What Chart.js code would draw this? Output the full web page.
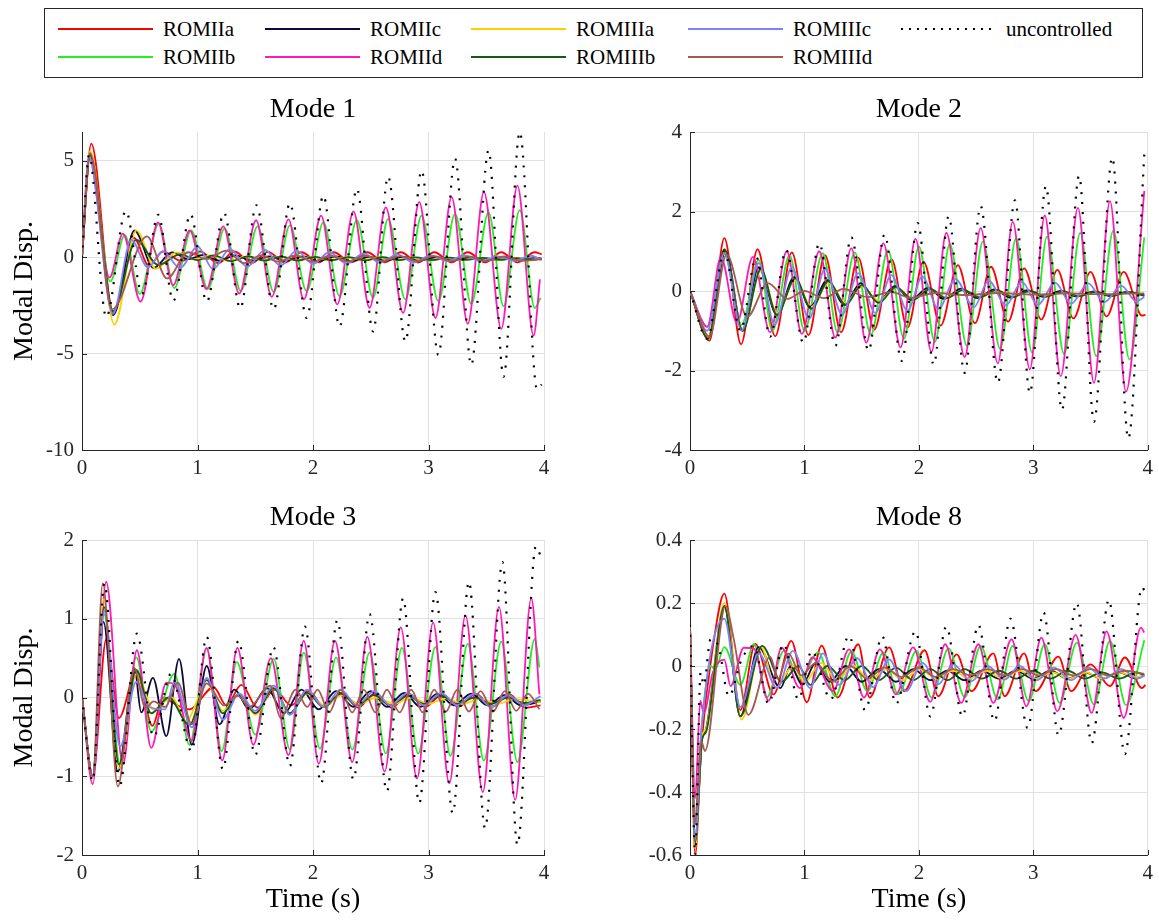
<!DOCTYPE html>
<html>
<head>
<meta charset="utf-8">
<script src="https://cdn.jsdelivr.net/npm/chart.js@4.4.1/dist/chart.umd.min.js"></script>
<style>
  body { margin: 0; background: #fff; width: 1159px; height: 920px; position: relative; overflow: hidden; font-family: 'Liberation Serif', serif; }
  canvas { position: absolute; }
  #legend { position: absolute; left: 44px; top: 8px; width: 1099px; height: 70px; box-sizing: border-box; border: 1px solid #262626; }
  .item { position: absolute; display: flex; align-items: center; font-size: 21px; color: #000; height: 24px; }
  .swatch { display: inline-block; width: 95px; height: 2px; margin-right: 10px; }
</style>
</head>
<body>
<div id="legend"></div>
<canvas id="c1" width="560" height="390" style="left:0;top:90px"></canvas>
<canvas id="c2" width="539" height="390" style="left:620px;top:90px"></canvas>
<canvas id="c3" width="560" height="422" style="left:0;top:498px"></canvas>
<canvas id="c4" width="539" height="422" style="left:620px;top:498px"></canvas>
<script>
// series, in legend order (column by column)
const seriesNames = ['ROMIIa', 'ROMIIb', 'ROMIIc', 'ROMIId', 'ROMIIIa', 'ROMIIIb', 'ROMIIIc', 'ROMIIId', 'uncontrolled'];
const seriesColors = ['#ff0000', '#22ee22', '#0a0a3c', '#ff19b5', '#ffd000', '#155a15', '#8080ff', '#a35a50', '#000000'];
const modeTitles = ['Mode 1', 'Mode 2', 'Mode 3', 'Mode 8'];

// ---- Mode 1: [time (s), modal displacement]
const m1_ROMIIa = [[0,0],[0.08,5.9],[0.27,-2.9],[0.45,1.0],[0.58,-0.45],[0.70,0.3],[0.86,-0.2],[1.02,0.3],[1.18,-0.3],[1.32,0.3],[1.47,-0.3],[1.61,0.28],[1.76,-0.28],[1.90,0.26],[2.05,-0.26],[2.18,0.26],[2.33,-0.26],[2.47,0.26],[2.62,-0.26],[2.76,0.26],[2.91,-0.27],[3.05,0.26],[3.20,-0.26],[3.34,0.26],[3.49,-0.26],[3.63,0.26],[3.77,-0.26],[3.92,0.26],[3.98,0.15]];
const m1_ROMIIb = [[0,0],[0.065,5.3],[0.245,-1.25],[0.37,1.15],[0.50,-1.9],[0.665,1.75],[0.80,-1.6],[0.945,1.4],[1.09,-1.65],[1.235,1.5],[1.375,-1.75],[1.52,1.6],[1.66,-1.8],[1.80,1.65],[1.945,-1.76],[2.09,1.81],[2.23,-2.02],[2.38,1.93],[2.52,-2.1],[2.65,1.98],[2.80,-2.19],[2.94,2.16],[3.085,-2.28],[3.23,2.25],[3.37,-2.42],[3.52,2.33],[3.65,-2.54],[3.79,2.45],[3.92,-2.63],[3.97,-2.1]];
const m1_ROMIIc = [[0,0],[0.07,5.4],[0.27,-3.0],[0.455,1.39],[0.62,-0.55],[0.78,0.25],[0.92,-0.1],[1.05,0.12],[1.19,-0.18],[1.33,0.1],[1.47,-0.18],[1.62,0.05],[1.76,-0.2],[1.91,0.05],[2.05,-0.2],[2.2,0.05],[2.34,-0.2],[2.49,0.02],[2.63,-0.18],[2.78,0.02],[2.92,-0.18],[3.07,0.0],[3.21,-0.16],[3.36,0.0],[3.5,-0.16],[3.65,-0.02],[3.79,-0.15],[3.94,-0.03],[3.98,-0.08]];
const m1_ROMIId = [[0,0],[0.06,5.2],[0.238,-1.05],[0.354,1.22],[0.507,-2.3],[0.658,1.81],[0.788,-1.45],[0.933,1.39],[1.078,-1.65],[1.223,1.6],[1.362,-1.88],[1.507,1.92],[1.643,-2.05],[1.788,1.97],[1.92,-2.19],[2.07,2.16],[2.21,-2.45],[2.35,2.38],[2.49,-2.63],[2.63,2.59],[2.78,-2.89],[2.92,2.86],[3.06,-3.15],[3.20,3.12],[3.34,-3.45],[3.48,3.38],[3.63,-3.71],[3.77,3.72],[3.91,-4.06],[3.965,-1.15]];
const m1_ROMIIIa = [[0,0],[0.07,5.5],[0.28,-3.5],[0.47,1.4],[0.64,-0.6],[0.82,0.25],[0.97,-0.1],[1.12,0.1],[1.27,-0.2],[1.42,0.05],[1.56,-0.15],[1.71,0.02],[1.85,-0.15],[2.0,0.0],[2.14,-0.15],[2.29,0.0],[2.43,-0.14],[2.58,-0.01],[2.72,-0.14],[2.87,-0.02],[3.01,-0.13],[3.16,-0.03],[3.3,-0.13],[3.45,-0.04],[3.59,-0.12],[3.74,-0.05],[3.88,-0.12],[3.98,-0.07]];
const m1_ROMIIIb = [[0,0],[0.07,5.3],[0.27,-2.8],[0.47,0.9],[0.66,-0.4],[0.85,0.15],[1.0,-0.15],[1.14,0.1],[1.29,-0.2],[1.44,0.05],[1.58,-0.17],[1.73,0.03],[1.87,-0.17],[2.02,0.02],[2.16,-0.16],[2.31,0.01],[2.45,-0.16],[2.6,0.0],[2.74,-0.15],[2.89,-0.01],[3.03,-0.15],[3.18,-0.02],[3.32,-0.14],[3.47,-0.03],[3.61,-0.14],[3.76,-0.04],[3.9,-0.13],[3.98,-0.08]];
const m1_ROMIIIc = [[0,0],[0.06,5.2],[0.267,-2.93],[0.426,0.9],[0.571,-0.52],[0.70,0.3],[0.85,-0.56],[1.0,0.56],[1.136,-0.61],[1.28,0.44],[1.43,-0.49],[1.586,0.38],[1.716,-0.44],[1.86,0.35],[2.0,-0.35],[2.14,0.26],[2.29,-0.33],[2.44,0.2],[2.58,-0.28],[2.73,0.15],[2.87,-0.27],[3.02,0.1],[3.16,-0.2],[3.31,0.1],[3.45,-0.2],[3.60,0.05],[3.74,-0.18],[3.89,0.08],[3.98,-0.15]];
const m1_ROMIIId = [[0,0],[0.07,5.4],[0.26,-2.7],[0.562,1.08],[0.736,-1.1],[0.92,0.26],[1.08,-0.1],[1.25,0.35],[1.40,-0.3],[1.55,0.1],[1.70,-0.22],[1.85,0.1],[2.0,-0.22],[2.15,0.08],[2.3,-0.22],[2.45,0.08],[2.6,-0.2],[2.75,0.06],[2.9,-0.2],[3.05,0.06],[3.2,-0.2],[3.35,0.05],[3.5,-0.2],[3.65,0.05],[3.8,-0.18],[3.98,-0.1]];
const m1_uncontrolled = [[0,0],[0.06,5.3],[0.21,-3.1],[0.38,2.4],[0.52,-1.9],[0.66,2.2],[0.79,-2.26],[0.94,2.23],[1.08,-2.3],[1.23,2.3],[1.37,-2.65],[1.51,2.7],[1.66,-2.7],[1.80,2.8],[1.945,-3.15],[2.09,3.2],[2.23,-3.59],[2.38,3.55],[2.52,-3.85],[2.65,4.19],[2.80,-4.37],[2.94,4.5],[3.085,-5.07],[3.23,5.12],[3.37,-5.59],[3.52,5.55],[3.65,-6.2],[3.79,6.5],[3.94,-6.85],[3.98,-6.6]];

// ---- Mode 2
const m2_ROMIIa = [[0,0],[0.17,-1.25],[0.30,1.33],[0.446,-1.34],[0.59,1.05],[0.745,-1.14],[0.89,0.97],[1.035,-1.11],[1.18,0.9],[1.32,-1.04],[1.47,0.84],[1.61,-0.97],[1.76,0.8],[1.90,-0.92],[2.04,0.74],[2.19,-0.87],[2.34,0.65],[2.49,-0.81],[2.63,0.61],[2.78,-0.77],[2.92,0.57],[3.07,-0.72],[3.21,0.53],[3.35,-0.69],[3.50,0.48],[3.64,-0.64],[3.79,0.48],[3.95,-0.62],[3.98,-0.6]];
const m2_ROMIIb = [[0,0],[0.15,-0.9],[0.30,0.95],[0.45,-0.85],[0.60,0.78],[0.72,-1.0],[0.87,0.9],[1.0,-1.0],[1.16,0.95],[1.29,-1.05],[1.44,0.97],[1.58,-1.1],[1.73,1.03],[1.87,-1.2],[2.0,1.12],[2.14,-1.28],[2.27,1.18],[2.42,-1.38],[2.56,1.25],[2.71,-1.45],[2.85,1.33],[2.99,-1.55],[3.12,1.37],[3.27,-1.59],[3.41,1.46],[3.55,-1.64],[3.70,1.52],[3.84,-1.72],[3.97,1.35]];
const m2_ROMIIc = [[0,0],[0.16,-1.15],[0.31,1.0],[0.46,-1.0],[0.60,0.6],[0.76,-0.6],[0.91,0.35],[1.05,-0.4],[1.20,0.27],[1.35,-0.35],[1.49,0.2],[1.64,-0.28],[1.79,0.12],[1.93,-0.22],[2.08,0.08],[2.22,-0.2],[2.37,0.06],[2.51,-0.18],[2.66,0.04],[2.8,-0.17],[2.95,0.02],[3.09,-0.15],[3.24,0.0],[3.38,-0.14],[3.53,-0.01],[3.67,-0.13],[3.82,-0.02],[3.97,-0.12]];
const m2_ROMIId = [[0,0],[0.15,-0.9],[0.27,0.85],[0.41,-0.8],[0.55,0.86],[0.70,-1.04],[0.846,1.0],[0.977,-1.08],[1.13,1.0],[1.27,-1.17],[1.41,1.08],[1.54,-1.3],[1.69,1.2],[1.84,-1.42],[1.97,1.31],[2.11,-1.53],[2.24,1.46],[2.40,-1.66],[2.54,1.58],[2.69,-1.82],[2.82,1.74],[2.97,-1.97],[3.10,1.9],[3.24,-2.14],[3.39,2.09],[3.53,-2.31],[3.67,2.26],[3.81,-2.53],[3.97,2.52]];
const m2_ROMIIIa = [[0,0],[0.16,-1.15],[0.30,1.0],[0.46,-0.95],[0.62,0.5],[0.76,-0.55],[0.92,0.28],[1.06,-0.4],[1.21,0.2],[1.36,-0.3],[1.50,0.12],[1.65,-0.25],[1.80,0.08],[1.95,-0.2],[2.1,0.04],[2.24,-0.16],[2.39,0.02],[2.53,-0.15],[2.68,0.0],[2.82,-0.14],[2.97,-0.01],[3.11,-0.13],[3.26,-0.02],[3.4,-0.12],[3.55,-0.03],[3.69,-0.11],[3.84,-0.04],[3.97,-0.09]];
const m2_ROMIIIb = [[0,0],[0.16,-1.2],[0.30,1.05],[0.46,-1.0],[0.62,0.55],[0.76,-0.6],[0.92,0.32],[1.06,-0.45],[1.21,0.25],[1.36,-0.35],[1.50,0.15],[1.65,-0.3],[1.80,0.1],[1.95,-0.22],[2.1,0.05],[2.24,-0.18],[2.39,0.03],[2.53,-0.16],[2.68,0.02],[2.82,-0.15],[2.97,0.0],[3.11,-0.14],[3.26,-0.01],[3.4,-0.13],[3.55,-0.02],[3.69,-0.12],[3.84,-0.03],[3.97,-0.1]];
const m2_ROMIIIc = [[0,0],[0.15,-1.0],[0.30,0.95],[0.45,-1.0],[0.60,0.7],[0.74,-0.85],[0.89,0.6],[1.04,-0.7],[1.18,0.55],[1.33,-0.6],[1.47,0.45],[1.62,-0.55],[1.76,0.4],[1.90,-0.5],[2.03,0.36],[2.17,-0.45],[2.32,0.3],[2.48,-0.41],[2.61,0.26],[2.76,-0.36],[2.90,0.23],[3.04,-0.35],[3.19,0.21],[3.33,-0.32],[3.48,0.19],[3.62,-0.28],[3.77,0.13],[3.90,-0.26],[3.97,-0.15]];
const m2_ROMIIId = [[0,0],[0.17,-1.15],[0.32,0.92],[0.50,-0.65],[0.68,0.2],[0.85,-0.2],[1.0,0.0],[1.17,-0.18],[1.34,0.05],[1.55,-0.15],[1.76,-0.03],[1.93,-0.17],[2.15,-0.05],[2.4,-0.1],[2.7,-0.05],[3.0,-0.09],[3.3,-0.06],[3.6,-0.08],[3.97,-0.06]];
const m2_uncontrolled = [[0,0],[0.15,-1.2],[0.30,1.0],[0.44,-1.0],[0.58,0.85],[0.70,-1.15],[0.84,1.03],[0.99,-1.3],[1.13,1.2],[1.27,-1.38],[1.41,1.35],[1.56,-1.5],[1.70,1.42],[1.85,-1.76],[1.99,1.71],[2.13,-1.85],[2.26,1.88],[2.40,-2.06],[2.54,2.14],[2.69,-2.31],[2.84,2.28],[2.97,-2.57],[3.11,2.64],[3.25,-2.99],[3.40,2.9],[3.53,-3.29],[3.69,3.36],[3.83,-3.71],[3.97,3.45]];

// ---- Mode 3
const m3_ROMIIa = [[0,0],[0.093,-1.0],[0.21,0.74],[0.32,-0.26],[0.47,0.34],[0.61,-0.36],[0.70,0.0],[0.80,-0.08],[0.93,-0.15],[1.14,0.13],[1.25,-0.1],[1.38,0.16],[1.52,-0.13],[1.67,0.1],[1.81,-0.1],[1.96,0.08],[2.10,-0.12],[2.25,0.06],[2.39,-0.13],[2.54,0.06],[2.68,-0.13],[2.83,0.05],[2.97,-0.12],[3.12,0.04],[3.26,-0.12],[3.41,0.05],[3.55,-0.12],[3.70,0.04],[3.84,-0.13],[3.97,-0.1]];
const m3_ROMIIb = [[0,0],[0.093,-1.0],[0.19,1.06],[0.33,-0.85],[0.47,0.51],[0.60,-0.43],[0.80,0.3],[0.93,-0.6],[1.08,0.62],[1.21,-0.68],[1.34,0.45],[1.50,-0.47],[1.66,0.49],[1.80,-0.66],[1.92,0.57],[2.06,-0.65],[2.20,0.51],[2.34,-0.66],[2.49,0.57],[2.63,-0.71],[2.77,0.63],[2.91,-0.71],[3.06,0.64],[3.19,-0.74],[3.34,0.68],[3.48,-0.8],[3.63,0.71],[3.77,-0.82],[3.92,0.74],[3.96,0.38]];
const m3_ROMIIc = [[0,0],[0.093,-1.0],[0.186,0.96],[0.31,-0.94],[0.455,0.36],[0.513,-0.19],[0.614,0.25],[0.73,-0.49],[0.84,0.49],[0.95,-0.6],[1.08,0.4],[1.19,-0.34],[1.32,0.1],[1.45,-0.15],[1.6,0.12],[1.75,-0.2],[1.9,0.1],[2.05,-0.15],[2.2,0.08],[2.35,-0.12],[2.5,0.08],[2.64,-0.12],[2.79,0.06],[2.93,-0.12],[3.08,0.05],[3.22,-0.1],[3.37,0.05],[3.51,-0.1],[3.66,0.03],[3.8,-0.1],[3.97,-0.05]];
const m3_ROMIId = [[0,0],[0.093,-1.1],[0.209,1.47],[0.354,-0.85],[0.475,0.6],[0.60,-0.64],[0.73,0.19],[0.80,0.17],[0.948,-0.55],[1.078,0.63],[1.214,-0.8],[1.345,0.63],[1.484,-0.6],[1.635,0.5],[1.788,-0.73],[1.92,0.72],[2.05,-0.84],[2.19,0.72],[2.34,-0.82],[2.47,0.77],[2.62,-0.94],[2.76,0.89],[2.90,-1.03],[3.04,0.95],[3.18,-1.09],[3.32,1.04],[3.47,-1.2],[3.61,1.15],[3.75,-1.3],[3.89,1.26],[3.96,0.04]];
const m3_ROMIIIa = [[0,0],[0.093,-1.0],[0.19,1.25],[0.32,-0.9],[0.47,0.3],[0.62,-0.15],[0.78,0.0],[0.90,-0.3],[1.08,0.18],[1.22,-0.17],[1.36,0.05],[1.5,-0.22],[1.66,0.12],[1.8,-0.2],[1.95,0.05],[2.1,-0.1],[2.25,0.03],[2.4,-0.08],[2.55,0.0],[2.7,-0.08],[2.85,0.0],[3.0,-0.08],[3.15,-0.01],[3.3,-0.08],[3.45,-0.02],[3.6,-0.08],[3.75,-0.02],[3.97,-0.06]];
const m3_ROMIIIb = [[0,0],[0.093,-1.0],[0.19,1.15],[0.32,-0.85],[0.47,0.35],[0.60,-0.2],[0.75,0.0],[0.93,-0.35],[1.08,0.22],[1.22,-0.2],[1.36,0.05],[1.5,-0.2],[1.66,0.12],[1.8,-0.2],[1.95,0.06],[2.09,-0.12],[2.24,0.05],[2.38,-0.1],[2.53,0.03],[2.67,-0.1],[2.82,0.02],[2.96,-0.08],[3.11,0.02],[3.25,-0.08],[3.4,0.0],[3.54,-0.08],[3.69,0.0],[3.83,-0.07],[3.97,-0.03]];
const m3_ROMIIIc = [[0,0],[0.093,-1.0],[0.19,1.1],[0.33,-0.62],[0.47,0.2],[0.58,-0.12],[0.72,-0.15],[0.80,0.2],[0.95,-0.38],[1.08,0.25],[1.22,-0.28],[1.36,0.05],[1.5,-0.17],[1.66,0.15],[1.8,-0.22],[1.95,0.1],[2.09,-0.12],[2.24,0.1],[2.38,-0.1],[2.53,0.08],[2.67,-0.1],[2.82,0.06],[2.96,-0.1],[3.11,0.06],[3.25,-0.1],[3.4,0.05],[3.54,-0.12],[3.69,0.03],[3.83,-0.1],[3.97,0.02]];
const m3_ROMIIId = [[0,0],[0.093,-1.0],[0.18,1.45],[0.31,-1.13],[0.45,0.38],[0.55,-0.13],[0.62,-0.05],[0.72,-0.12],[0.83,0.19],[0.95,-0.34],[1.08,0.18],[1.23,-0.1],[1.35,0.02],[1.45,-0.12],[1.63,0.15],[1.72,-0.26],[1.85,0.1],[1.95,-0.12],[2.04,0.1],[2.14,-0.19],[2.24,0.1],[2.34,-0.19],[2.44,0.1],[2.54,-0.19],[2.64,0.1],[2.75,-0.19],[2.85,0.1],[2.95,-0.19],[3.05,0.1],[3.15,-0.18],[3.25,0.1],[3.35,-0.18],[3.45,0.08],[3.56,-0.18],[3.66,0.08],[3.76,-0.17],[3.86,0.05],[3.96,-0.15]];
const m3_uncontrolled = [[0,0],[0.093,-1.06],[0.194,1.45],[0.325,-1.13],[0.475,0.81],[0.62,-0.5],[0.77,0.3],[0.948,-0.68],[1.08,0.77],[1.22,-0.91],[1.354,0.72],[1.50,-0.73],[1.658,0.64],[1.80,-0.87],[1.93,0.9],[2.07,-1.09],[2.21,0.98],[2.35,-1.04],[2.49,1.06],[2.64,-1.19],[2.78,1.26],[2.92,-1.34],[3.06,1.34],[3.21,-1.47],[3.35,1.47],[3.49,-1.66],[3.64,1.72],[3.77,-1.87],[3.93,1.92],[3.97,1.8]];

// ---- Mode 8
const m8_ROMIIa = [[0,0.13],[0.045,-0.6],[0.10,-0.25],[0.20,0.06],[0.30,0.23],[0.44,-0.14],[0.57,0.07],[0.73,-0.09],[0.885,0.08],[1.02,-0.115],[1.15,0.065],[1.29,-0.1],[1.47,0.069],[1.57,-0.1],[1.74,0.059],[1.87,-0.08],[2.05,0.05],[2.17,-0.096],[2.33,0.037],[2.46,-0.08],[2.65,0.04],[2.75,-0.096],[2.92,0.04],[3.02,-0.08],[3.22,0.03],[3.33,-0.08],[3.50,0.005],[3.67,-0.064],[3.80,0.027],[3.95,-0.07],[3.98,-0.06]];
const m8_ROMIIb = [[0,0.13],[0.045,-0.5],[0.10,-0.2],[0.18,0.0],[0.22,-0.01],[0.30,0.06],[0.44,-0.06],[0.56,0.07],[0.67,-0.1],[0.82,0.048],[0.96,-0.04],[1.12,0.043],[1.27,-0.096],[1.41,0.046],[1.55,-0.08],[1.69,0.043],[1.82,-0.09],[1.98,0.048],[2.11,-0.1],[2.26,0.056],[2.40,-0.099],[2.54,0.064],[2.69,-0.106],[2.82,0.064],[2.96,-0.112],[3.10,0.069],[3.23,-0.117],[3.38,0.074],[3.53,-0.122],[3.67,0.08],[3.81,-0.124],[3.97,0.082]];
const m8_ROMIIc = [[0,0.13],[0.045,-0.55],[0.107,-0.23],[0.14,-0.2],[0.30,0.19],[0.44,-0.16],[0.60,0.06],[0.79,-0.07],[0.88,0.0],[0.98,-0.06],[1.1,0.01],[1.22,-0.05],[1.36,0.0],[1.5,-0.05],[1.65,-0.01],[1.8,-0.05],[1.95,-0.01],[2.1,-0.045],[2.25,-0.015],[2.4,-0.045],[2.55,-0.015],[2.7,-0.04],[2.85,-0.015],[3.0,-0.04],[3.15,-0.015],[3.3,-0.04],[3.45,-0.02],[3.6,-0.04],[3.75,-0.02],[3.9,-0.04],[3.97,-0.03]];
const m8_ROMIId = [[0,0.13],[0.045,-0.42],[0.09,-0.11],[0.12,-0.15],[0.20,-0.02],[0.30,0.02],[0.354,-0.064],[0.47,0.058],[0.556,0.056],[0.687,-0.11],[0.80,0.058],[0.96,-0.07],[1.07,0.027],[1.25,-0.08],[1.39,0.053],[1.52,-0.1],[1.66,0.053],[1.80,-0.09],[1.95,0.059],[2.10,-0.114],[2.23,0.069],[2.37,-0.117],[2.52,0.069],[2.65,-0.117],[2.81,0.085],[2.94,-0.128],[3.07,0.09],[3.21,-0.144],[3.37,0.099],[3.51,-0.149],[3.64,0.11],[3.79,-0.165],[3.94,0.122],[3.97,0.106]];
const m8_ROMIIIa = [[0,0.13],[0.045,-0.58],[0.107,-0.22],[0.14,-0.2],[0.30,0.2],[0.45,-0.17],[0.62,0.06],[0.75,-0.07],[0.9,0.0],[1.0,-0.05],[1.15,0.01],[1.28,-0.045],[1.43,0.0],[1.57,-0.045],[1.72,-0.01],[1.86,-0.045],[2.01,-0.01],[2.15,-0.04],[2.3,-0.015],[2.44,-0.04],[2.59,-0.015],[2.73,-0.04],[2.88,-0.015],[3.02,-0.04],[3.17,-0.02],[3.31,-0.04],[3.46,-0.02],[3.6,-0.04],[3.75,-0.02],[3.89,-0.035],[3.97,-0.03]];
const m8_ROMIIIb = [[0,0.13],[0.045,-0.56],[0.107,-0.23],[0.14,-0.21],[0.30,0.19],[0.44,-0.16],[0.63,0.064],[0.80,-0.05],[0.95,0.0],[1.05,-0.06],[1.2,0.0],[1.35,-0.045],[1.5,0.0],[1.65,-0.045],[1.8,-0.005],[1.95,-0.045],[2.1,-0.01],[2.25,-0.045],[2.4,-0.01],[2.55,-0.04],[2.7,-0.015],[2.85,-0.04],[3.0,-0.015],[3.15,-0.04],[3.3,-0.015],[3.45,-0.04],[3.6,-0.02],[3.75,-0.04],[3.9,-0.02],[3.97,-0.03]];
const m8_ROMIIIc = [[0,0.13],[0.045,-0.55],[0.10,-0.2],[0.30,0.15],[0.44,-0.13],[0.60,0.04],[0.76,-0.07],[0.90,0.048],[1.05,-0.07],[1.16,0.04],[1.30,-0.06],[1.46,0.025],[1.60,-0.067],[1.74,0.021],[1.89,-0.08],[2.03,0.011],[2.17,-0.058],[2.30,0.005],[2.46,-0.048],[2.60,0.0],[2.75,-0.043],[2.88,0.0],[3.03,-0.045],[3.18,-0.005],[3.33,-0.045],[3.48,-0.005],[3.62,-0.04],[3.77,-0.01],[3.91,-0.04],[3.97,-0.03]];
const m8_ROMIIId = [[0,0.13],[0.04,-0.5],[0.1,-0.24],[0.13,-0.27],[0.31,0.19],[0.38,0.09],[0.51,-0.155],[0.70,0.03],[0.77,-0.04],[0.86,0.04],[0.97,-0.03],[1.1,0.01],[1.25,-0.05],[1.4,0.0],[1.55,-0.04],[1.7,-0.005],[1.85,-0.035],[2.0,-0.005],[2.15,-0.035],[2.3,-0.01],[2.45,-0.03],[2.6,-0.01],[2.75,-0.03],[2.9,-0.01],[3.05,-0.03],[3.2,-0.01],[3.35,-0.03],[3.5,-0.01],[3.65,-0.03],[3.8,-0.015],[3.97,-0.025]];
const m8_uncontrolled = [[0,0.13],[0.045,-0.6],[0.093,-0.02],[0.12,-0.06],[0.18,0.085],[0.25,0.06],[0.34,-0.096],[0.45,0.02],[0.556,0.064],[0.687,-0.12],[0.817,0.07],[0.948,-0.106],[1.064,0.048],[1.23,-0.106],[1.39,0.096],[1.53,-0.14],[1.68,0.094],[1.80,-0.12],[1.97,0.11],[2.10,-0.16],[2.24,0.125],[2.38,-0.16],[2.52,0.13],[2.66,-0.175],[2.80,0.15],[2.95,-0.197],[3.09,0.17],[3.22,-0.22],[3.38,0.2],[3.51,-0.245],[3.66,0.21],[3.80,-0.28],[3.95,0.25],[3.97,0.24]];

const mode1 = [m1_ROMIIa, m1_ROMIIb, m1_ROMIIc, m1_ROMIId, m1_ROMIIIa, m1_ROMIIIb, m1_ROMIIIc, m1_ROMIIId, m1_uncontrolled];
const mode2 = [m2_ROMIIa, m2_ROMIIb, m2_ROMIIc, m2_ROMIId, m2_ROMIIIa, m2_ROMIIIb, m2_ROMIIIc, m2_ROMIIId, m2_uncontrolled];
const mode3 = [m3_ROMIIa, m3_ROMIIb, m3_ROMIIc, m3_ROMIId, m3_ROMIIIa, m3_ROMIIIb, m3_ROMIIIc, m3_ROMIIId, m3_uncontrolled];
const mode8 = [m8_ROMIIa, m8_ROMIIb, m8_ROMIIc, m8_ROMIId, m8_ROMIIIa, m8_ROMIIIb, m8_ROMIIIc, m8_ROMIIId, m8_uncontrolled];

// y limits and tick steps of each panel
const yLimits = [[-10, 6.5, 5], [-4, 4, 2], [-2, 2, 1], [-0.6, 0.4, 0.2]];

Chart.defaults.font.family = "'Liberation Serif', 'Times New Roman', serif";
Chart.defaults.color = '#262626';

// MATLAB style short ticks pointing into the plot
const inwardTicks = {
    id: 'inwardTicks',
    afterDraw(chart) {
        const { ctx, chartArea: a, scales: { x, y } } = chart;
        ctx.save();
        ctx.strokeStyle = '#262626';
        ctx.lineWidth = 1;
        ctx.beginPath();
        x.ticks.forEach(t => {
            const px = Math.round(x.getPixelForValue(t.value)) + 0.5;
            ctx.moveTo(px, a.bottom); ctx.lineTo(px, a.bottom - 5);
        });
        y.ticks.forEach(t => {
            const py = Math.round(y.getPixelForValue(t.value)) + 0.5;
            ctx.moveTo(a.left, py); ctx.lineTo(a.left + 5, py);
        });
        ctx.stroke();
        ctx.restore();
    }
};

const makeChart = (canvasId, title, series, limits, yTitle, xTitle, yWidth, xHeight, padRight) => {
    // reversed so that 'uncontrolled' ends up drawn on top, like the original
    const datasets = series.map((pts, i) => ({
        label: seriesNames[i],
        data: pts.map(p => ({ x: p[0], y: p[1] })),
        borderColor: seriesColors[i],
        borderWidth: i === 8 ? 2.2 : 1.8,
        borderDash: i === 8 ? [2, 8] : [],
        pointRadius: 0,
        cubicInterpolationMode: 'monotone',
        fill: false
    })).reverse();

    new Chart(document.getElementById(canvasId), {
        type: 'line',
        data: { datasets },
        options: {
            responsive: false,
            animation: false,
            layout: { padding: { top: 3.2, right: padRight, left: 0, bottom: 0 }, autoPadding: false },
            plugins: {
                legend: { display: false },
                tooltip: { enabled: false },
                title: { display: true, text: title, fullSize: false, color: '#000', font: { size: 28, weight: 'normal' }, padding: { top: 0, bottom: 5.2 } }
            },
            scales: {
                x: {
                    type: 'linear', min: 0, max: 4,
                    afterFit: s => { s.height = xHeight; },
                    ticks: { stepSize: 1, padding: 6, maxRotation: 0, font: { size: 21 } },
                    grid: { color: '#e1e1e1', drawTicks: false },
                    border: { color: '#262626', width: 1 },
                    title: { display: xTitle, text: 'Time (s)', color: '#000', font: { size: 28 }, padding: { top: 0, bottom: 4 } }
                },
                y: {
                    min: limits[0], max: limits[1],
                    afterFit: s => { s.width = yWidth; },
                    ticks: { stepSize: limits[2], padding: 8, includeBounds: false, font: { size: 21 } },
                    grid: { color: '#e1e1e1', drawTicks: false },
                    border: { color: '#262626', width: 1 },
                    title: { display: yTitle, text: 'Modal Disp.', color: '#000', font: { size: 28 }, padding: { top: 8, bottom: 0 } }
                }
            }
        },
        plugins: [inwardTicks]
    });
};

makeChart('c1', modeTitles[0], mode1, yLimits[0], true, false, 82, 30, 16);
makeChart('c2', modeTitles[1], mode2, yLimits[1], false, false, 70, 30, 6);
makeChart('c3', modeTitles[2], mode3, yLimits[2], true, true, 82, 65, 16);
makeChart('c4', modeTitles[3], mode8, yLimits[3], false, true, 70, 65, 6);

// legend box, filled column by column like the MATLAB one
const legend = document.getElementById('legend');
const colLeft = [13, 220, 426, 643, 856];
seriesNames.forEach((name, i) => {
    const item = document.createElement('div');
    item.className = 'item';
    item.style.left = colLeft[Math.floor(i / 2)] + 'px';
    item.style.top = (i % 2 === 0 ? 8 : 36) + 'px';
    const sw = document.createElement('span');
    sw.className = 'swatch';
    sw.style.background = i === 8
        ? 'repeating-linear-gradient(to right, #000 0 2px, transparent 2px 8px)'
        : seriesColors[i];
    const label = document.createElement('span');
    label.textContent = name;
    item.appendChild(sw);
    item.appendChild(label);
    legend.appendChild(item);
});
</script>
</body>
</html>
